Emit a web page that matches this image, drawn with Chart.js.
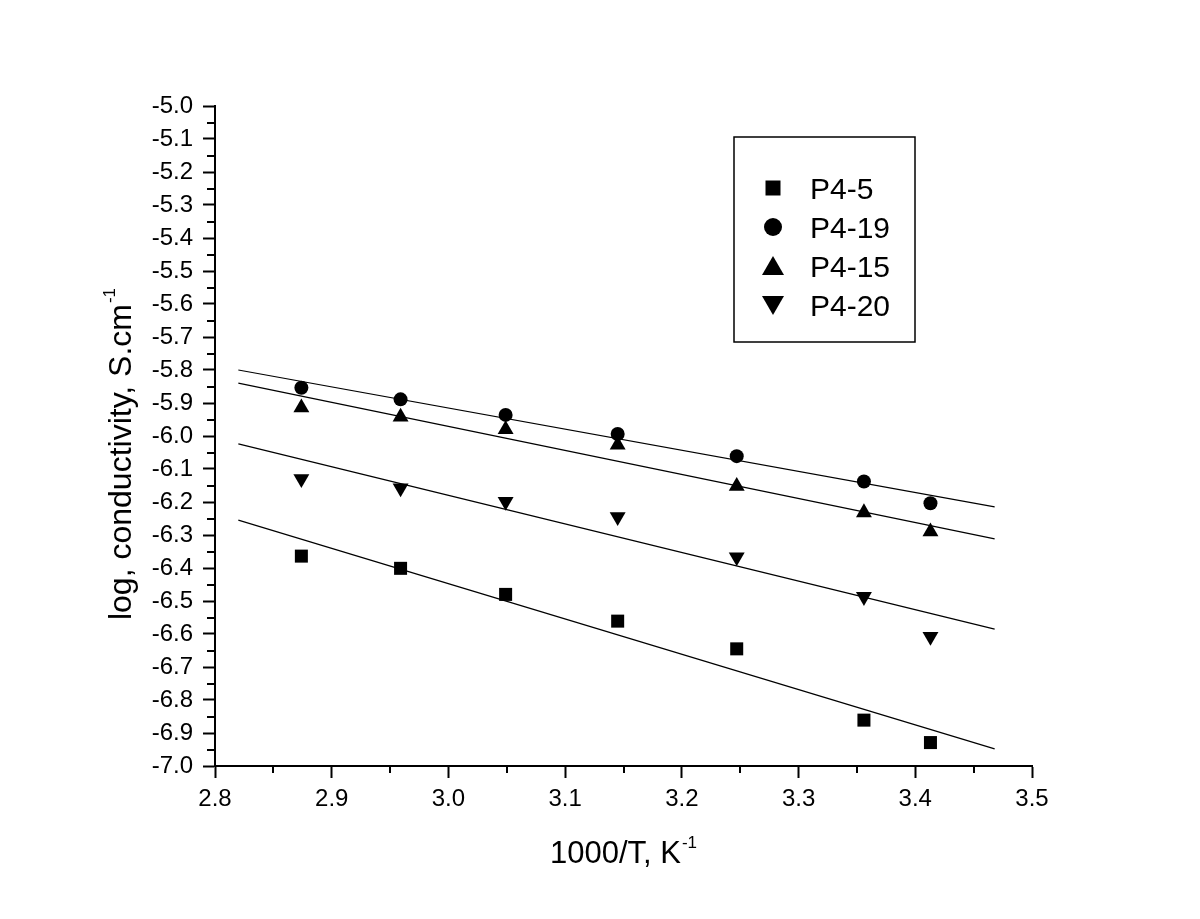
<!DOCTYPE html>
<html>
<head>
<meta charset="utf-8">
<script src="https://cdn.jsdelivr.net/npm/chart.js@4.4.0/dist/chart.umd.min.js"></script>
<style>
  html, body { margin: 0; padding: 0; background: #fff; }
  #wrap { width: 1200px; height: 919px; }
</style>
</head>
<body>
<div id="wrap"><canvas id="chart"></canvas></div>
<script>
// 1000/T values (K^-1)
const invT = [2.874, 2.959, 3.049, 3.145, 3.247, 3.356, 3.413];

// log conductivity per sample
const p4_5  = [-6.364, -6.401, -6.480, -6.561, -6.645, -6.861, -6.929];
const p4_19 = [-5.854, -5.889, -5.936, -5.994, -6.061, -6.138, -6.204];
const p4_15 = [-5.914, -5.942, -5.980, -6.027, -6.152, -6.232, -6.290];
const p4_20 = [-6.130, -6.158, -6.199, -6.245, -6.367, -6.487, -6.608];

// linear fits (end points)
const fitX    = [2.82, 3.468];
const fit4_5  = [-6.255, -6.948];
const fit4_19 = [-5.800, -6.215];
const fit4_15 = [-5.840, -6.312];
const fit4_20 = [-6.024, -6.585];

const seriesNames = ['P4-5', 'P4-19', 'P4-15', 'P4-20'];
const xTitle = ['1000/T, K', '-1'];
const yTitle = ['log, conductivity, S.cm', '-1'];

const FONT = "'Liberation Sans', Arial, sans-serif";

const pts = (xs, ys) => xs.map((x, i) => ({ x, y: ys[i] }));

function fitLine(ys) {
    return {
        data: pts(fitX, ys),
        showLine: true,
        borderColor: '#000',
        borderWidth: 1.2,
        pointRadius: 0,
        fill: false
    };
}

function markers(label, ys, style, radius, rotation) {
    return {
        label,
        data: pts(invT, ys),
        showLine: false,
        pointStyle: style,
        pointRadius: radius,
        pointRotation: rotation || 0,
        backgroundColor: '#000',
        borderColor: '#000',
        borderWidth: 0
    };
}

// minor ticks halfway between the major ones
const minorTicks = {
    id: 'minorTicks',
    afterDraw(chart) {
        const { ctx, scales: { x, y } } = chart;
        ctx.save();
        ctx.strokeStyle = '#000';
        ctx.lineWidth = 2;
        ctx.beginPath();
        for (let v = 2.85; v < 3.5; v += 0.1) {
            const px = Math.round(x.getPixelForValue(v));
            ctx.moveTo(px, y.bottom);
            ctx.lineTo(px, y.bottom + 7);
        }
        for (let v = -6.95; v < -5; v += 0.1) {
            const py = Math.round(y.getPixelForValue(v));
            ctx.moveTo(x.left, py);
            ctx.lineTo(x.left - 8, py);
        }
        ctx.stroke();
        ctx.restore();
    }
};

// title text with a raised "-1"
function drawSupText(ctx, parts, size, supSize, rise) {
    ctx.font = size + 'px ' + FONT;
    const w1 = ctx.measureText(parts[0]).width;
    ctx.font = supSize + 'px ' + FONT;
    const w2 = ctx.measureText(parts[1]).width;
    const start = -(w1 + 1 + w2) / 2;
    ctx.textAlign = 'left';
    ctx.textBaseline = 'alphabetic';
    ctx.font = size + 'px ' + FONT;
    ctx.fillText(parts[0], start, 0);
    ctx.font = supSize + 'px ' + FONT;
    ctx.fillText(parts[1], start + w1 + 1, -rise);
}

const axisTitles = {
    id: 'axisTitles',
    afterDraw(chart) {
        const { ctx, chartArea } = chart;
        ctx.save();
        ctx.fillStyle = '#000';
        ctx.translate((chartArea.left + chartArea.right) / 2, 863);
        drawSupText(ctx, xTitle, 31, 17, 15);
        ctx.restore();

        ctx.save();
        ctx.fillStyle = '#000';
        ctx.translate(131, 454);
        ctx.rotate(-Math.PI / 2);
        drawSupText(ctx, yTitle, 32, 17, 16);
        ctx.restore();
    }
};

function drawMarker(ctx, style, cx, cy, s) {
    ctx.beginPath();
    if (style === 'rect') {
        ctx.rect(cx - s / 2, cy - s / 2, s, s);
    } else if (style === 'circle') {
        ctx.arc(cx, cy, s / 2, 0, Math.PI * 2);
    } else if (style === 'up') {
        ctx.moveTo(cx, cy - s * 0.5);
        ctx.lineTo(cx + s * 0.55, cy + s * 0.45);
        ctx.lineTo(cx - s * 0.55, cy + s * 0.45);
        ctx.closePath();
    } else {
        ctx.moveTo(cx, cy + s * 0.5);
        ctx.lineTo(cx + s * 0.55, cy - s * 0.45);
        ctx.lineTo(cx - s * 0.55, cy - s * 0.45);
        ctx.closePath();
    }
    ctx.fill();
}

// boxed legend inside the plot area
const boxLegend = {
    id: 'boxLegend',
    afterDraw(chart) {
        const ctx = chart.ctx;
        const styles = [['rect', 15], ['circle', 18], ['up', 20], ['down', 20]];
        const rows = [188, 227, 266, 305];
        ctx.save();
        ctx.strokeStyle = '#000';
        ctx.lineWidth = 1.5;
        ctx.strokeRect(734, 137, 181, 205);
        ctx.fillStyle = '#000';
        ctx.font = '30px ' + FONT;
        ctx.textBaseline = 'alphabetic';
        ctx.textAlign = 'left';
        seriesNames.forEach((name, i) => {
            drawMarker(ctx, styles[i][0], 773, rows[i], styles[i][1]);
            ctx.fillText(name, 810, rows[i] + 11);
        });
        ctx.restore();
    }
};

const axisCommon = {
    grid: {
        drawOnChartArea: false,
        drawTicks: true,
        tickLength: 12,
        tickWidth: 2,
        tickColor: '#000'
    },
    border: { display: true, color: '#000', width: 2 },
    title: { display: false }
};

new Chart(document.getElementById('chart'), {
    type: 'scatter',
    data: {
        datasets: [
            fitLine(fit4_5),
            fitLine(fit4_19),
            fitLine(fit4_15),
            fitLine(fit4_20),
            markers('P4-5', p4_5, 'rect', 9.2),
            markers('P4-19', p4_19, 'circle', 7),
            markers('P4-15', p4_15, 'triangle', 9.2),
            markers('P4-20', p4_20, 'triangle', 9.2, 180)
        ]
    },
    options: {
        responsive: true,
        maintainAspectRatio: false,
        animation: false,
        layout: { padding: { left: 0, top: 106, right: 168, bottom: 0 } },
        plugins: {
            legend: { display: false },
            tooltip: { enabled: false }
        },
        scales: {
            x: {
                ...axisCommon,
                type: 'linear',
                min: 2.8,
                max: 3.5,
                ticks: {
                    stepSize: 0.1,
                    color: '#000',
                    padding: 7,
                    font: { family: FONT, size: 24 },
                    callback: v => v.toFixed(1)
                },
                afterFit(scale) { scale.height = 153; }
            },
            y: {
                ...axisCommon,
                type: 'linear',
                min: -7.0,
                max: -5.0,
                ticks: {
                    stepSize: 0.1,
                    color: '#000',
                    padding: 10,
                    font: { family: FONT, size: 24 },
                    callback: v => v.toFixed(1)
                },
                afterFit(scale) { scale.width = 215; }
            }
        }
    },
    plugins: [minorTicks, axisTitles, boxLegend]
});
</script>
</body>
</html>
